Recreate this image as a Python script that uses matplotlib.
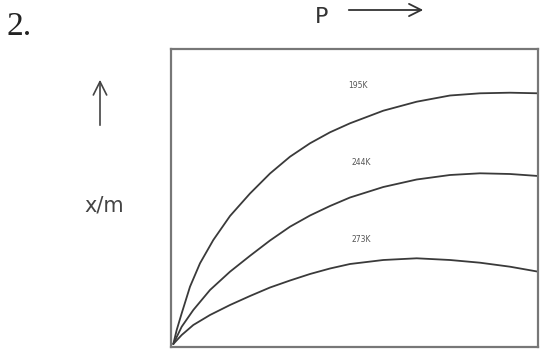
import matplotlib
matplotlib.use("Agg")
import matplotlib.pyplot as plt
from matplotlib.patches import FancyArrowPatch

# Pressure (arbitrary units) and adsorption x/m (arbitrary units)
p_195 = [2.3, 5.7, 10.7, 19, 29, 42.3, 59, 79, 99, 119, 139, 159, 179, 212.3, 245.7, 279, 309, 339, 367.3]
xm_195 = [3, 17, 33.7, 60.3, 83.7, 107, 131, 153.5, 173.5, 190.3, 203.7, 214.7, 223.7, 236.3, 245.3, 251.5, 253.7, 254.3, 253.7]

p_244 = [2.3, 10.7, 22.3, 39, 59, 79, 99, 119, 139, 159, 179, 212.3, 245.7, 279, 309, 339, 367.3]
xm_244 = [3, 20.3, 37, 57, 75.3, 91.2, 106.5, 120.3, 131.5, 141, 149.5, 160, 167.5, 172, 173.7, 173, 171]

p_273 = [2.3, 10.7, 22.3, 39, 59, 79, 99, 119, 139, 159, 179, 212.3, 245.7, 279, 309, 339, 367.3]
xm_273 = [3, 12, 22, 32, 42, 51, 59.5, 66.5, 73, 78.5, 83, 87, 88.7, 87, 84.3, 80.3, 75.3]

labels = ["195K", "244K", "273K"]
label_pos = [(187, 262), (190.7, 184.3), (190.7, 107)]

fig = plt.figure(figsize=(5.41, 3.5), dpi=100)
ax = fig.add_axes([171/541, 3/350, 367/541, 298/350])

line_kw = dict(color="#3a3a3a", lw=1.3, solid_capstyle="round", solid_joinstyle="round")
ax.plot(p_195, xm_195, **line_kw)
ax.plot(p_244, xm_244, **line_kw)
ax.plot(p_273, xm_273, **line_kw)

for lab, (x, y) in zip(labels, label_pos):
    ax.text(x, y, lab, fontsize=5.5, color="#555555", ha="center", va="center")

ax.set_xlim(0, 367)
ax.set_ylim(0, 298)
ax.set_xticks([])
ax.set_yticks([])
for s in ax.spines.values():
    s.set_color("#777777")
    s.set_linewidth(1.6)

# Outside annotations
fig.text(7/541, 1 - 27/350, "2.", fontsize=24, family="Liberation Serif",
         ha="left", va="center", color="#222222")
fig.text(322/541, 1 - 17/350, "P", fontsize=16, family="DejaVu Sans",
         ha="center", va="center", color="#333333")
fig.add_artist(FancyArrowPatch(
    (346/541, 1 - 10/350), (426/541, 1 - 10/350), transform=fig.transFigure,
    arrowstyle="->", mutation_scale=22, lw=1.3, color="#333333"))
fig.add_artist(FancyArrowPatch(
    (100/541, 1 - 128/350), (100/541, 1 - 77/350), transform=fig.transFigure,
    arrowstyle="->", mutation_scale=24, lw=1.2, color="#444444"))
fig.text(104/541, 1 - 206/350, "x/m", fontsize=15, family="DejaVu Sans",
         ha="center", va="center", color="#444444")

fig.savefig("out.png", dpi=100)
